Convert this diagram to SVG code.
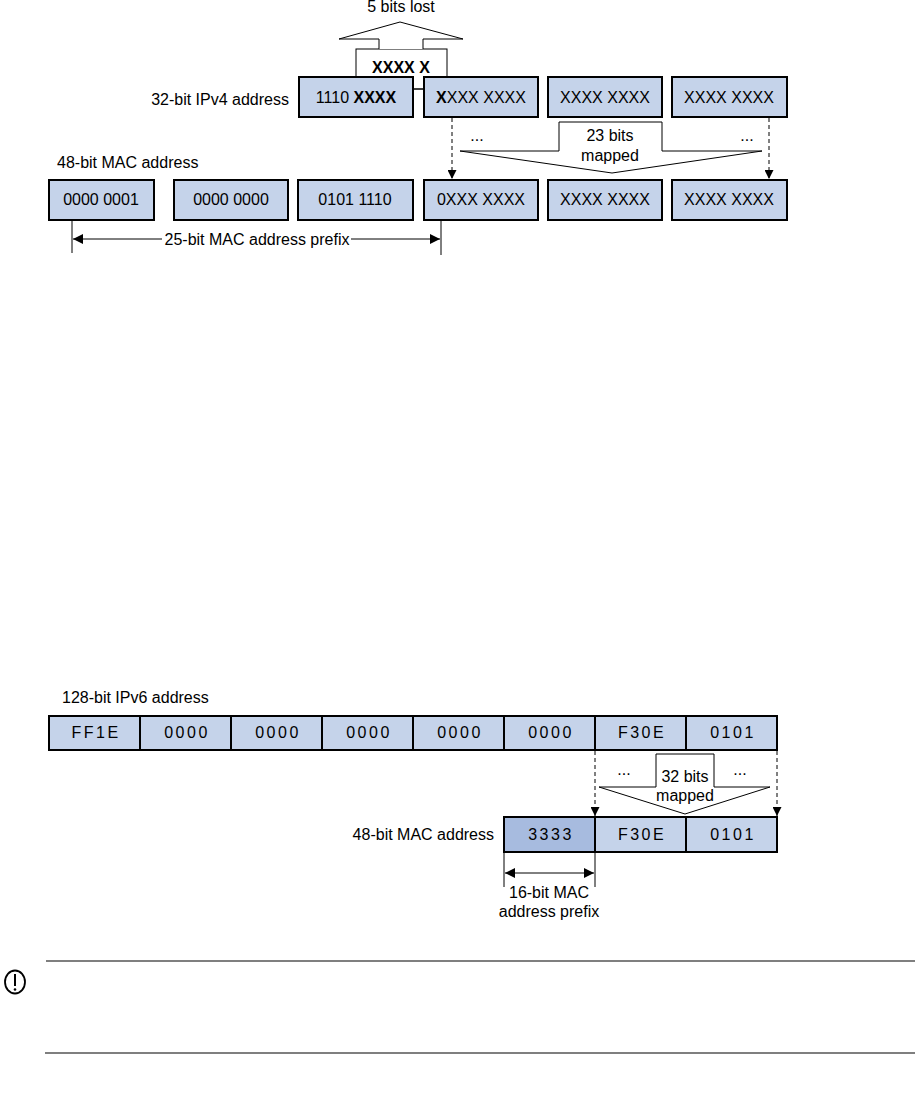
<svg xmlns="http://www.w3.org/2000/svg" width="915" height="1109" viewBox="0 0 915 1109">
<defs>
<marker id="ah" viewBox="0 0 10 10" refX="10" refY="5" markerWidth="10" markerHeight="10" markerUnits="userSpaceOnUse" orient="auto-start-reverse">
<path d="M0,0 L10,5 L0,10 Z" fill="#000"/>
</marker>
<marker id="ahs" viewBox="0 0 10 10" refX="10" refY="5" markerWidth="9" markerHeight="9" markerUnits="userSpaceOnUse" orient="auto">
<path d="M0,0 L10,5 L0,10 Z" fill="#000"/>
</marker>
<style>
text{font-family:"Liberation Sans",Arial,sans-serif;font-size:16px;fill:#000}
.c{text-anchor:middle}
.r{text-anchor:end}
.b{font-weight:bold}
.box{fill:#C5D3EA;stroke:#000;stroke-width:2}
.dk{fill:#A7BBDF;stroke:#000;stroke-width:2}
.v6{text-anchor:middle;letter-spacing:2.5px}
.ol{fill:#fff;stroke:#000;stroke-width:1}
.ln{fill:none;stroke:#000;stroke-width:1}
.dash{fill:none;stroke:#000;stroke-width:1;stroke-dasharray:4,3}
</style>
</defs>
<rect width="915" height="1109" fill="#fff"/>

<!-- IPv4 part -->
<g id="lost">
<rect class="ol" x="356" y="49" width="91" height="40"/>
<path class="ol" d="M379,49 V39 H339 L400,22 L463,39 H423 V49"/>
<text class="c" x="401" y="12">5 bits lost</text>
<text class="c b" x="401" y="73">XXXX X</text>
</g>
<text id="ipv4-label" class="r" x="289" y="105">32-bit IPv4 address</text>
<g id="ipv4-1"><rect class="box" x="299" y="77" width="114" height="40"/><text class="c" x="356" y="103">1110 <tspan class="b">XXXX</tspan></text></g>
<g id="ipv4-2"><rect class="box" x="424" y="77" width="114" height="40"/><text class="c" x="481" y="103"><tspan class="b">X</tspan>XXX XXXX</text></g>
<g id="ipv4-3"><rect class="box" x="548" y="77" width="114" height="40"/><text class="c" x="605" y="103">XXXX XXXX</text></g>
<g id="ipv4-4"><rect class="box" x="672" y="77" width="115" height="40"/><text class="c" x="729" y="103">XXXX XXXX</text></g>

<g id="map23">
<path class="ol" d="M460,151 L612,173 L762,151 H662 V122 H559 V151 Z"/>
<text class="c" x="610" y="141">23 bits</text>
<text class="c" x="610" y="161">mapped</text>
<text class="c" x="477" y="141">...</text>
<text class="c" x="747" y="141">...</text>
</g>

<text id="mac-label" x="57" y="168">48-bit MAC address</text>
<g id="mac-1"><rect class="box" x="49" y="180" width="105" height="40"/><text class="c" x="101" y="205">0000 0001</text></g>
<g id="mac-2"><rect class="box" x="174" y="180" width="114" height="40"/><text class="c" x="231" y="205">0000 0000</text></g>
<g id="mac-3"><rect class="box" x="298" y="180" width="115" height="40"/><text class="c" x="355" y="205">0101 1110</text></g>
<g id="mac-4"><rect class="box" x="424" y="180" width="114" height="40"/><text class="c" x="481" y="205">0XXX XXXX</text></g>
<g id="mac-5"><rect class="box" x="548" y="180" width="114" height="40"/><text class="c" x="605" y="205">XXXX XXXX</text></g>
<g id="mac-6"><rect class="box" x="672" y="180" width="115" height="40"/><text class="c" x="729" y="205">XXXX XXXX</text></g>

<g id="prefix25">
<text class="c" x="257" y="245">25-bit MAC address prefix</text>
</g>

<!-- IPv6 part -->
<text id="ipv6-label" x="62" y="703">128-bit IPv6 address</text>
<g id="ipv6">
<rect class="box" x="49" y="716" width="91" height="34"/><text class="v6" x="96" y="738">FF1E</text>
<rect class="box" x="140" y="716" width="91" height="34"/><text class="v6" x="187" y="738">0000</text>
<rect class="box" x="231" y="716" width="91" height="34"/><text class="v6" x="278" y="738">0000</text>
<rect class="box" x="322" y="716" width="91" height="34"/><text class="v6" x="369" y="738">0000</text>
<rect class="box" x="413" y="716" width="91" height="34"/><text class="v6" x="460" y="738">0000</text>
<rect class="box" x="504" y="716" width="91" height="34"/><text class="v6" x="551" y="738">0000</text>
<rect class="box" x="595" y="716" width="91" height="34"/><text class="v6" x="642" y="738">F30E</text>
<rect class="box" x="686" y="716" width="91" height="34"/><text class="v6" x="733" y="738">0101</text>
</g>

<g id="map32">
<path class="ol" d="M599,787 L685,814 L770,787 H714 V754 H656 V787 Z"/>
<text class="c" x="685" y="782">32 bits</text>
<text class="c" x="685" y="801">mapped</text>
<text class="c" x="624" y="775">...</text>
<text class="c" x="740" y="775">...</text>
</g>

<text id="mac6-label" class="r" x="494" y="840">48-bit MAC address</text>
<g id="mac6">
<rect class="dk" x="504" y="817" width="91" height="35"/><text class="v6" x="551" y="840">3333</text>
<rect class="box" x="595" y="817" width="91" height="35"/><text class="v6" x="642" y="840">F30E</text>
<rect class="box" x="686" y="817" width="91" height="35"/><text class="v6" x="733" y="840">0101</text>
</g>

<g id="prefix16">
<text class="c" x="549" y="898">16-bit MAC</text>
<text class="c" x="549" y="917">address prefix</text>
</g>

<g id="connectors">
<line class="ln" x1="413" y1="89" x2="424" y2="89"/>
<line class="dash" x1="452" y1="118" x2="452" y2="179" marker-end="url(#ahs)"/>
<line class="dash" x1="769" y1="118" x2="769" y2="179" marker-end="url(#ahs)"/>
<line class="ln" x1="72" y1="221" x2="72" y2="253"/>
<line class="ln" x1="441" y1="221" x2="441" y2="255"/>
<line class="ln" x1="162" y1="239" x2="73" y2="239" marker-end="url(#ah)"/>
<line class="ln" x1="351" y1="239" x2="440" y2="239" marker-end="url(#ah)"/>
<line class="dash" x1="595" y1="751" x2="595" y2="816" marker-end="url(#ahs)"/>
<line class="dash" x1="777" y1="751" x2="777" y2="816" marker-end="url(#ahs)"/>
<line class="ln" x1="504" y1="853" x2="504" y2="887"/>
<line class="ln" x1="595" y1="853" x2="595" y2="887"/>
<line class="ln" x1="505" y1="873" x2="594" y2="873" marker-start="url(#ah)" marker-end="url(#ah)"/>
</g>

<!-- note area -->
<g id="note">
<line x1="46" y1="961" x2="915" y2="961" stroke="#000" stroke-width="1.2"/>
<line x1="45" y1="1053" x2="915" y2="1053" stroke="#000" stroke-width="1.2"/>
<ellipse cx="15" cy="982" rx="10" ry="11.5" fill="none" stroke="#000" stroke-width="1.8"/>
<line x1="15" y1="974" x2="15" y2="986" stroke="#000" stroke-width="2"/>
<circle cx="15" cy="989.5" r="1.3" fill="#000"/>
</g>
</svg>
